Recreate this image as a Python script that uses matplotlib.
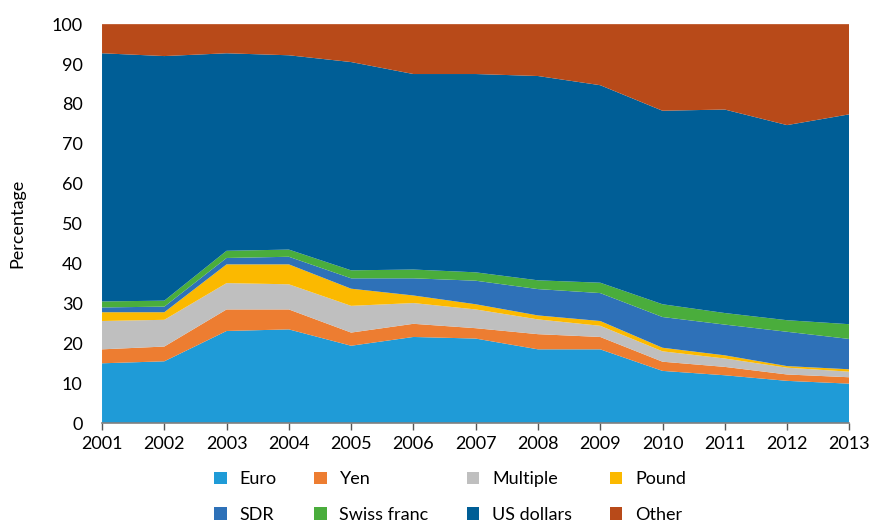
import matplotlib.pyplot as plt
import numpy as np

# Données (parts en %)
years = list(range(2001, 2014))
euro = [15.0, 15.5, 23.1, 23.5, 19.4, 21.6, 21.2, 18.5, 18.5, 13.1, 12.0, 10.6, 9.9]
yen = [3.5, 3.7, 5.4, 5.0, 3.3, 3.3, 2.6, 3.8, 3.1, 2.3, 2.1, 1.6, 1.6]
multiple = [7.1, 6.7, 6.6, 6.3, 6.7, 5.2, 4.7, 3.7, 2.8, 2.6, 2.1, 1.7, 1.4]
pound = [2.2, 1.9, 4.7, 5.0, 4.3, 1.9, 1.3, 1.0, 1.2, 0.9, 0.8, 0.4, 0.6]
sdr = [1.2, 1.4, 1.6, 1.9, 2.6, 4.3, 5.9, 6.6, 7.0, 7.7, 7.7, 8.6, 7.6]
swiss = [1.5, 1.5, 1.8, 1.8, 2.0, 2.2, 2.1, 2.2, 2.6, 3.2, 2.9, 2.9, 3.7]
usd = [62.2, 61.3, 49.5, 48.7, 52.2, 49.0, 49.7, 51.2, 49.5, 48.5, 51.0, 48.9, 52.6]
other = [7.3, 8.0, 7.3, 7.8, 9.5, 12.5, 12.5, 13.0, 15.3, 21.7, 21.4, 25.3, 22.6]

labels = ['Euro', 'Yen', 'Multiple', 'Pound', 'SDR', 'Swiss franc', 'US dollars', 'Other']
colors = ['#1f9bd7', '#ed7d31', '#bfbfbf', '#fbb900', '#2e71b8', '#4aad3c', '#005e96', '#b84a19']

plt.rcParams['font.family'] = ['Lato', 'DejaVu Sans']

fig = plt.figure(figsize=(8.72, 5.25), dpi=100)
ax = fig.add_axes([0.117, 0.194, 0.857, 0.76])

series = [euro, yen, multiple, pound, sdr, swiss, usd, other]
ax.stackplot(years, series, colors=colors, labels=labels, linewidth=0)

ax.set_xlim(2001, 2013)
ax.set_ylim(0, 100)
ax.set_xticks(years)
ax.set_yticks(range(0, 101, 10))
ax.tick_params(axis='y', length=0, pad=14, labelsize=13)
ax.tick_params(axis='x', direction='out', length=5, width=1, color='#555555', pad=4, labelsize=13)
for s in ['top', 'right', 'left']:
    ax.spines[s].set_visible(False)
ax.spines['bottom'].set_color('#808080')
ax.spines['bottom'].set_linewidth(1.2)
ax.set_ylabel('Percentage', fontsize=13, labelpad=19)

handles, labs = ax.get_legend_handles_labels()
# ordre ligne par ligne pour un legend à 4 colonnes
order = [0, 4, 1, 5, 2, 6, 3, 7]
fig.legend([handles[i] for i in order], [labs[i] for i in order],
           loc='center', bbox_to_anchor=(0.516, 0.053), ncol=4, frameon=False,
           fontsize=13, handlelength=0.7, handleheight=0.7, handletextpad=0.7,
           columnspacing=2.1, labelspacing=1.1)

fig.savefig('out.png', dpi=100)
